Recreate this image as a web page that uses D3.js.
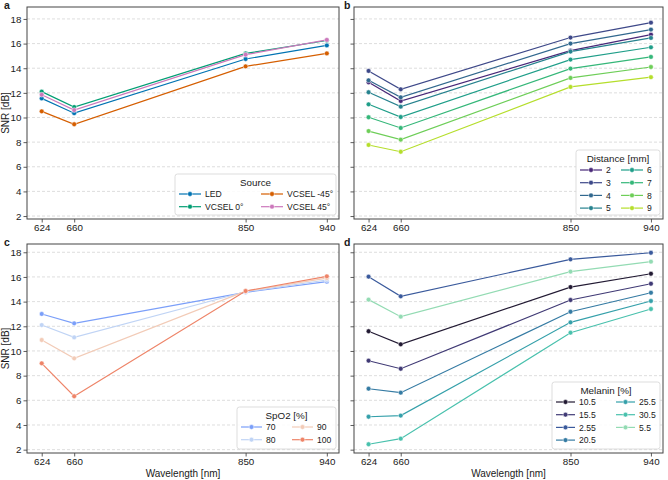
<!DOCTYPE html>
<html>
<head>
<meta charset="utf-8">
<script src="https://cdn.jsdelivr.net/npm/d3@7"></script>
<style>
  body { margin: 0; background: #fff; }
  svg text { font-family: "Liberation Sans", Arial, sans-serif; fill: #1a1a1a; }
</style>
</head>
<body>
<div id="chart"></div>
<script>
const W = 668, H = 480;

// shared x categories
const wavelengths = [624, 660, 850, 940];
const yTicks = [2, 4, 6, 8, 10, 12, 14, 16, 18];

// panel a - source
const sourceNames = ["LED", "VCSEL 0°", "VCSEL -45°", "VCSEL 45°"];
const sourceColors = ["#0173b2", "#029e73", "#d55e00", "#cc78bc"];
const sourceSnr = [
  [11.55, 10.35, 14.75, 15.85],
  [12.1, 10.85, 15.2, 16.25],
  [10.5, 9.45, 14.15, 15.2],
  [11.85, 10.6, 15.1, 16.3]
];

// panel b - distance
const distanceNames = ["2", "3", "4", "5", "6", "7", "8", "9"];
const distanceColors = ["#482878", "#3e4989", "#31688e", "#26828e", "#1f9e89", "#35b779", "#6ece58", "#b5de2b"];
const distanceSnr = [
  [12.86, 11.34, 15.43, 16.73],
  [13.78, 12.29, 16.49, 17.7],
  [13.02, 11.64, 16.0, 17.14],
  [12.05, 10.88, 15.35, 16.46],
  [11.07, 10.04, 14.7, 15.7],
  [10.02, 9.15, 13.97, 14.92],
  [8.9, 8.2, 13.21, 14.1],
  [7.77, 7.22, 12.48, 13.27]
];

// panel c - SpO2
const spo2Names = ["70", "80", "90", "100"];
const spo2Colors = ["#7b9ff9", "#c0d4f5", "#f2cbb7", "#ee8468"];
const spo2Snr = [
  [13.0, 12.24, 14.75, 15.62],
  [12.1, 11.1, 14.8, 15.75],
  [10.89, 9.4, 14.85, 15.9],
  [9.0, 6.33, 14.86, 16.05]
];

// panel d - melanin
const melaninNames = ["10.5", "15.5", "2.55", "20.5", "25.5", "30.5", "5.5"];
const melaninColors = ["#221a33", "#403a75", "#3a5a9c", "#357ba3", "#35a0aa", "#49c1ad", "#93dbb3"];
const melaninSnr = [
  [11.6, 10.54, 15.18, 16.26],
  [9.21, 8.56, 14.13, 15.45],
  [16.02, 14.43, 17.43, 17.96],
  [6.94, 6.62, 13.18, 14.72],
  [4.67, 4.76, 12.32, 14.05],
  [2.44, 2.89, 11.48, 13.4],
  [14.16, 12.78, 16.43, 17.24]
];

const panels = [
  { letter: "a", box: [27, 7, 339, 219], yDom: [1.76, 18.97], yLabels: true, xLabel: false,
    names: sourceNames, colors: sourceColors, values: sourceSnr,
    legend: { title: "Source", w: 161, h: 41, colW: 82, handle: 22 } },
  { letter: "b", box: [354, 7, 663, 219], yDom: [1.76, 18.97], yLabels: false, xLabel: false,
    names: distanceNames, colors: distanceColors, values: distanceSnr,
    legend: { title: "Distance [mm]", w: 84, h: 65, colW: 41, handle: 22 } },
  { letter: "c", box: [27, 244, 339, 453], yDom: [1.73, 18.67], yLabels: true, xLabel: true,
    names: spo2Names, colors: spo2Colors, values: spo2Snr,
    legend: { title: "SpO2 [%]", w: 99, h: 42, colW: 51, handle: 21 } },
  { letter: "d", box: [354, 244, 663, 453], yDom: [1.73, 18.67], yLabels: false, xLabel: true,
    names: melaninNames, colors: melaninColors, values: melaninSnr,
    legend: { title: "Melanin [%]", w: 108, h: 67, colW: 60, handle: 19 } }
];

const svg = d3.select("#chart").append("svg")
  .attr("width", W).attr("height", H);

panels.forEach(p => {
  const [x0, y0, x1, y1] = p.box;
  const x = d3.scaleLinear().domain([607.7, 953.5]).range([x0, x1]);
  const y = d3.scaleLinear().domain(p.yDom).range([y1, y0]);
  const g = svg.append("g");

  // grid
  g.selectAll(".grid").data(yTicks).enter().append("line")
    .attr("x1", x0).attr("x2", x1)
    .attr("y1", d => y(d)).attr("y2", d => y(d))
    .attr("stroke", "#d6d6d6").attr("stroke-width", 0.8)
    .attr("stroke-dasharray", "3,2");

  // axes
  const yAxis = d3.axisLeft(y).tickValues(yTicks).tickSizeOuter(0).tickSize(3.5).tickPadding(2)
    .tickFormat(p.yLabels ? d3.format("d") : () => "");
  const xAxis = d3.axisBottom(x).tickValues(wavelengths).tickSizeOuter(0).tickSize(3.5).tickPadding(2)
    .tickFormat(d3.format("d"));
  const ya = g.append("g").attr("transform", `translate(${x0},0)`).call(yAxis);
  const xa = g.append("g").attr("transform", `translate(0,${y1})`).call(xAxis);
  [ya, xa].forEach(a => {
    a.select(".domain").remove();
    a.selectAll(".tick line").attr("stroke", "#333").attr("stroke-width", 0.8);
    a.selectAll(".tick text").attr("font-size", 9.8).attr("fill", "#1a1a1a")
      .style("font-family", "'Liberation Sans', Arial, sans-serif");
  });

  // frame
  g.append("rect").attr("x", x0).attr("y", y0).attr("width", x1 - x0).attr("height", y1 - y0)
    .attr("fill", "none").attr("stroke", "#444").attr("stroke-width", 1);

  // series
  const line = d3.line().x((d, i) => x(wavelengths[i])).y(d => y(d));
  p.values.forEach((vals, si) => {
    g.append("path").attr("d", line(vals)).attr("fill", "none")
      .attr("stroke", p.colors[si]).attr("stroke-width", 1.2);
    g.selectAll(null).data(vals).enter().append("circle")
      .attr("cx", (d, i) => x(wavelengths[i])).attr("cy", d => y(d)).attr("r", 2.4)
      .attr("fill", p.colors[si]).attr("stroke", "#fff").attr("stroke-width", 0.5);
  });

  // panel letter
  g.append("text").attr("x", x0 - (p.yLabels ? 23 : 10)).attr("y", y0 + 2)
    .attr("font-size", 10.5).attr("font-weight", "bold").text(p.letter);

  if (p.yLabels) {
    g.append("text").attr("transform", `translate(8.5,${(y0 + y1) / 2}) rotate(-90)`)
      .attr("text-anchor", "middle").attr("font-size", 10).text("SNR [dB]");
  }
  if (p.xLabel) {
    g.append("text").attr("x", (x0 + x1) / 2).attr("y", y1 + 23.5)
      .attr("text-anchor", "middle").attr("font-size", 10).text("Wavelength [nm]");
  }

  // legend (column-first, 2 columns)
  const L = p.legend;
  const lx = x1 - 3 - L.w, ly = y1 - 4 - L.h;
  const lg = g.append("g").attr("transform", `translate(${lx},${ly})`);
  lg.append("rect").attr("width", L.w).attr("height", L.h).attr("rx", 2.5)
    .attr("fill", "#fff").attr("fill-opacity", 0.85).attr("stroke", "#d4d4d4").attr("stroke-width", 0.8);
  lg.append("text").attr("x", L.w / 2).attr("y", 11.5).attr("text-anchor", "middle")
    .attr("font-size", 9.8).text(L.title);
  const nRows = Math.ceil(p.names.length / 2);
  p.names.forEach((name, i) => {
    const col = Math.floor(i / nRows), row = i % nRows;
    const hx = 4 + col * L.colW, hy = 20 + row * 12.7;
    lg.append("line").attr("x1", hx).attr("x2", hx + L.handle).attr("y1", hy).attr("y2", hy)
      .attr("stroke", p.colors[i]).attr("stroke-width", 1.2);
    lg.append("circle").attr("cx", hx + L.handle / 2).attr("cy", hy).attr("r", 2.4)
      .attr("fill", p.colors[i]).attr("stroke", "#fff").attr("stroke-width", 0.5);
    lg.append("text").attr("x", hx + L.handle + 4).attr("y", hy + 3.2)
      .attr("font-size", 8.6).text(name);
  });
});
</script>
</body>
</html>
